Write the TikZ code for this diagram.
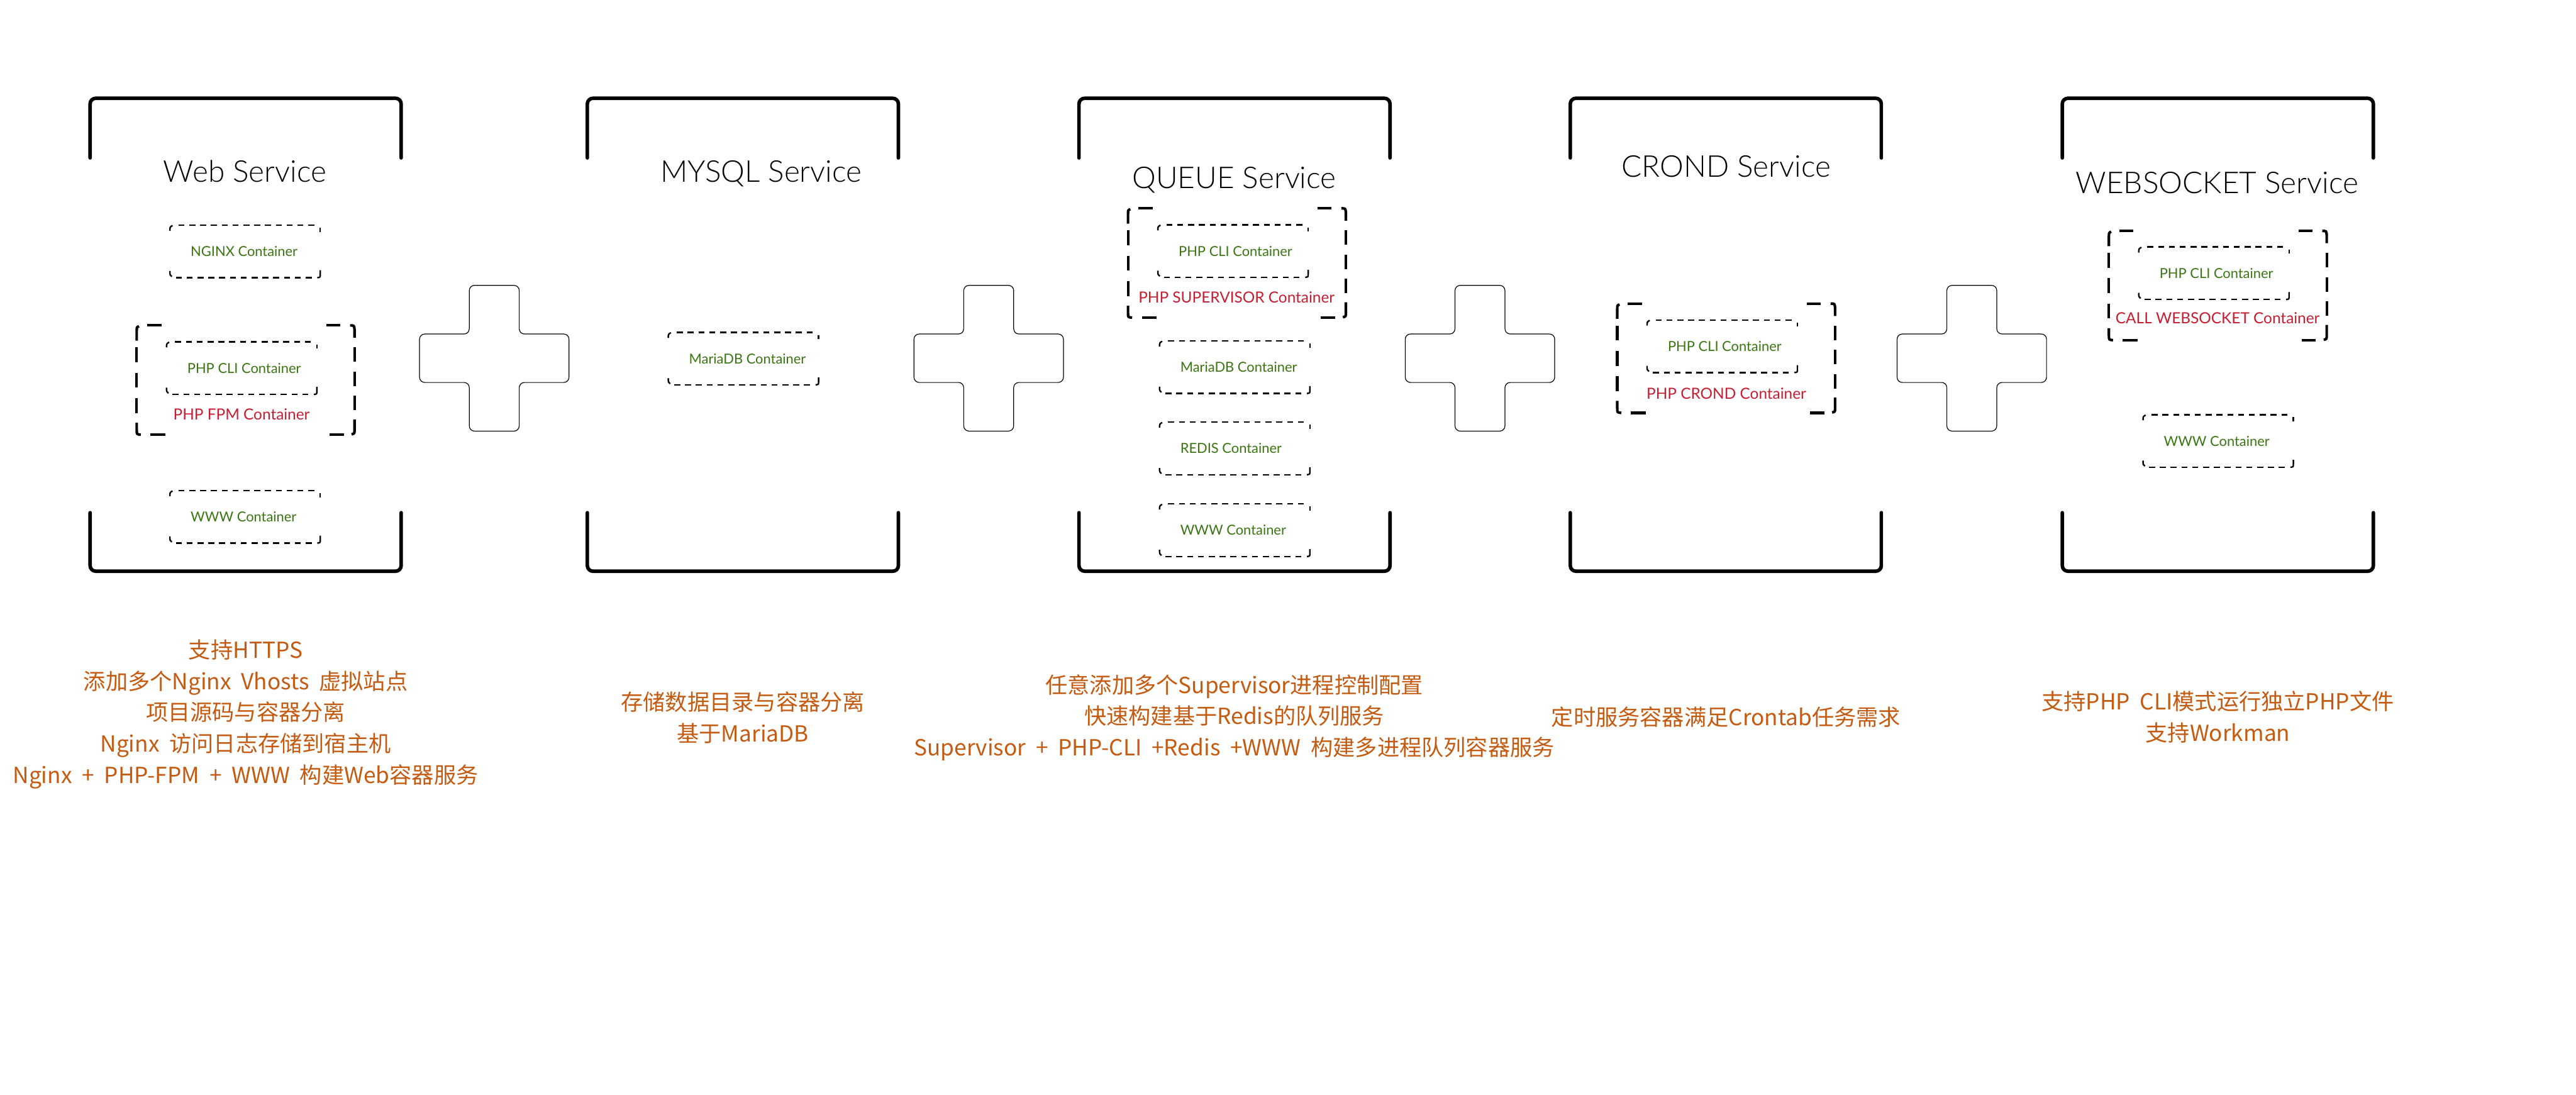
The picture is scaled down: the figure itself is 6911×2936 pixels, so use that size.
\documentclass[tikz,border=0pt]{standalone}
\usepackage{fontspec}
\setmainfont{Lato}
\newfontfamily\titlefont{Lato Light}
\newfontfamily\cjk{Noto Sans CJK SC}[WordSpace=2]
\usetikzlibrary{calc}
\definecolor{lblgreen}{HTML}{3A7612}
\definecolor{lblred}{HTML}{C81E32}
\definecolor{descorange}{HTML}{C55A11}

\tikzset{
  frameline/.style={line width=0.095cm, line cap=round, line join=round, rounded corners=0.15cm},
  svcframe/.style={minimum width=8.34cm, minimum height=12.68cm, inner sep=0pt, outer sep=0pt},
  plusshape/.style={line width=0.02cm, rounded corners=0.14cm},
  cbox/.style={minimum width=4.03cm, minimum height=1.41cm, inner sep=0pt, outer sep=0pt},
  clbl/.style={anchor=west, inner sep=0pt, text=lblgreen, font=\fontsize{10.5pt}{12pt}\selectfont},
  gbox/.style={minimum width=5.84cm, minimum height=2.93cm, inner sep=0pt, outer sep=0pt},
  cdash/.style={line width=0.04cm, line cap=butt},
  gdash/.style={line width=0.07cm, line cap=butt},
  grplbl/.style={text=lblred, font=\fontsize{11.7pt}{14pt}\selectfont, inner sep=0pt},
  svctitle/.style={font=\titlefont\fontsize{22.9pt}{27pt}\selectfont, inner sep=0pt, anchor=base},
  desc/.style={text=descorange, align=center, font=\cjk\fontsize{16.9pt}{23.9pt}\selectfont, inner sep=0pt},
}

\newcommand\framedraw[1]{%
  \draw[frameline] ($(#1.north west)+(0,160)$) -- (#1.north west) -- (#1.north east) -- ($(#1.north east)+(0,160)$);
  \draw[frameline] ($(#1.south west)+(0,-157)$) -- (#1.south west) -- (#1.south east) -- ($(#1.south east)+(0,-157)$);
}

\newcommand\cboxdraw[1]{%
  \draw[cdash, dash pattern=on 0.16cm off 0.13cm] ($(#1.north west)+(23,0)$) -- ($(#1.north east)+(-10,0)$);
  \draw[cdash, dash pattern=on 0.16cm off 0.13cm] ($(#1.south west)+(16,0)$) -- ($(#1.south east)+(-12,0)$);
  \draw[cdash] ($(#1.north west)+(0,15)$) .. controls ($(#1.north west)+(0,5)$) .. ($(#1.north west)+(7,1)$);
  \draw[cdash] ($(#1.north east)+(0,7)$) -- ($(#1.north east)+(0,18)$);
  \draw[cdash] ($(#1.south west)+(0,-18)$) .. controls ($(#1.south west)+(0,-7)$) .. ($(#1.south west)+(5,-3)$);
  \draw[cdash] ($(#1.south east)+(0,-20)$) -- ($(#1.south east)+(0,-9)$) .. controls ($(#1.south east)+(0,-1)$) .. ($(#1.south east)+(-8,0)$);
}

\newcommand\container[4]{%
  \node[cbox] (#1) at (#2,#3) {};
  \node[clbl] (#1-t) at ($(#1.west)+(55,0)$) {#4};
  \cboxdraw{#1}
}

\newcommand\gboxdraw[1]{%
  \draw[gdash] ($(#1.north west)+(28,0)$) -- ($(#1.north west)+(66,0)$);
  \draw[gdash] ($(#1.north east)+(-76,0)$) -- ($(#1.north east)+(-38,0)$);
  \draw[gdash] ($(#1.south west)+(37,0)$) -- ($(#1.south west)+(77,0)$);
  \draw[gdash] ($(#1.south east)+(-67,0)$) -- ($(#1.south east)+(-29,0)$);
  \draw[gdash] ($(#1.north west)+(0,41)$) -- ($(#1.north west)+(0,14)$) .. controls ($(#1.north west)+(0,5)$) .. ($(#1.north west)+(6,2)$);
  \draw[gdash, dash pattern=on 0.4cm off 0.28cm] ($(#1.north west)+(0,59)$) -- ($(#1.north west)+(0,235)$);
  \draw[gdash] ($(#1.south west)+(0,-32)$) -- ($(#1.south west)+(0,-12)$) .. controls ($(#1.south west)+(0,-1)$) .. ($(#1.south west)+(11,0)$);
  \draw[gdash] ($(#1.north east)+(-12,0)$) .. controls ($(#1.north east)+(-1,0)$) .. ($(#1.north east)+(0,12)$) -- ($(#1.north east)+(0,33)$);
  \draw[gdash, dash pattern=on 0.39cm off 0.26cm] ($(#1.north east)+(0,59)$) -- ($(#1.north east)+(0,228)$);
  \draw[gdash] ($(#1.south east)+(0,-41)$) -- ($(#1.south east)+(0,-14)$) .. controls ($(#1.south east)+(0,-3)$) .. ($(#1.south east)+(-8,-1)$);
}

\newcommand\plusdraw[1]{%
  \draw[plusshape] ($(#1)+(0,-195.5)$) -- ++(67,0) -- ++(0,130.5) -- ++(133.5,0) -- ++(0,130) -- ++(-133.5,0) -- ++(0,130.5) -- ++(-134,0) -- ++(0,-130.5) -- ++(-133.5,0) -- ++(0,-130) -- ++(133.5,0) -- ++(0,-130.5) -- cycle;
}

\begin{document}
\begin{tikzpicture}[x=0.01cm, y=-0.01cm]
  \fill[white] (0,0) rectangle (6911,2936);
  \useasboundingbox (0,0) rectangle (6911,2936);

  % service frames
  \node[svcframe] (fweb) at (659,898) {};
  \node[svcframe] (fmysql) at (1993,898) {};
  \node[svcframe] (fqueue) at (3312,898) {};
  \node[svcframe] (fcrond) at (4630,898) {};
  \node[svcframe] (fws) at (5950,898) {};
  \framedraw{fweb}
  \framedraw{fmysql}
  \framedraw{fqueue}
  \framedraw{fcrond}
  \framedraw{fws}

  % titles
  \node[svctitle] (t-web) at (657,488) {Web Service};
  \node[svctitle] (t-mysql) at (2042,488) {MYSQL Service};
  \node[svctitle] (t-queue) at (3311,506) {QUEUE Service};
  \node[svctitle] (t-crond) at (4631,475) {CROND Service};
  \node[svctitle] (t-ws) at (5948,518) {WEBSOCKET Service};

  % plus signs
  \coordinate (p1) at (1326,961);
  \coordinate (p2) at (2652.5,961);
  \coordinate (p3) at (3970.5,961);
  \coordinate (p4) at (5290,961);
  \plusdraw{p1}
  \plusdraw{p2}
  \plusdraw{p3}
  \plusdraw{p4}

  % group boxes
  \node[gbox] (webgrp) at (659,1019.5) {};
  \node[gbox] (qgrp) at (3318.5,705.5) {};
  \node[gbox] (cgrp) at (4631,961) {};
  \node[gbox] (wgrp) at (5950,766) {};
  \gboxdraw{webgrp}
  \gboxdraw{qgrp}
  \gboxdraw{cgrp}
  \gboxdraw{wgrp}
  \node[grplbl] (webgrp-t) at (648,1112) {PHP FPM Container};
  \node[grplbl] (qgrp-t) at (3317.5,798) {PHP SUPERVISOR Container};
  \node[grplbl] (cgrp-t) at (4631.5,1055) {PHP CROND Container};
  \node[grplbl] (wgrp-t) at (5949.5,854) {CALL WEBSOCKET Container};

  % containers
  \container{nginx}{657.5}{674.5}{NGINX Container}
  \container{webcli}{648.5}{987.5}{PHP CLI Container}
  \container{webwww}{657.5}{1386.5}{WWW Container}
  \container{mysqldb}{1994.5}{962}{MariaDB Container}
  \container{qcli}{3308}{673.5}{PHP CLI Container}
  \container{qdb}{3312.5}{985}{MariaDB Container}
  \container{qredis}{3312.5}{1203}{REDIS Container}
  \container{qwww}{3312.5}{1422.5}{WWW Container}
  \container{ccli}{4620.5}{929}{PHP CLI Container}
  \container{wcli}{5939.5}{733}{PHP CLI Container}
  \container{wwww}{5951}{1183}{WWW Container}

  % descriptions
  \node[desc] (d-web) at (659,1916) {支持HTTPS\\添加多个Nginx Vhosts 虚拟站点\\项目源码与容器分离\\Nginx 访问日志存储到宿主机\\Nginx + PHP-FPM + WWW 构建Web容器服务};
  \node[desc] (d-mysql) at (1993,1925) {存储数据目录与容器分离\\基于MariaDB};
  \node[desc] (d-queue) at (3311.5,1925) {任意添加多个Supervisor进程控制配置\\快速构建基于Redis的队列服务\\Supervisor + PHP-CLI +Redis +WWW 构建多进程队列容器服务};
  \node[desc] (d-crond) at (4630.5,1923) {定时服务容器满足Crontab任务需求};
  \node[desc] (d-ws) at (5950,1923) {支持PHP CLI模式运行独立PHP文件\\支持Workman};
\end{tikzpicture}
\end{document}
